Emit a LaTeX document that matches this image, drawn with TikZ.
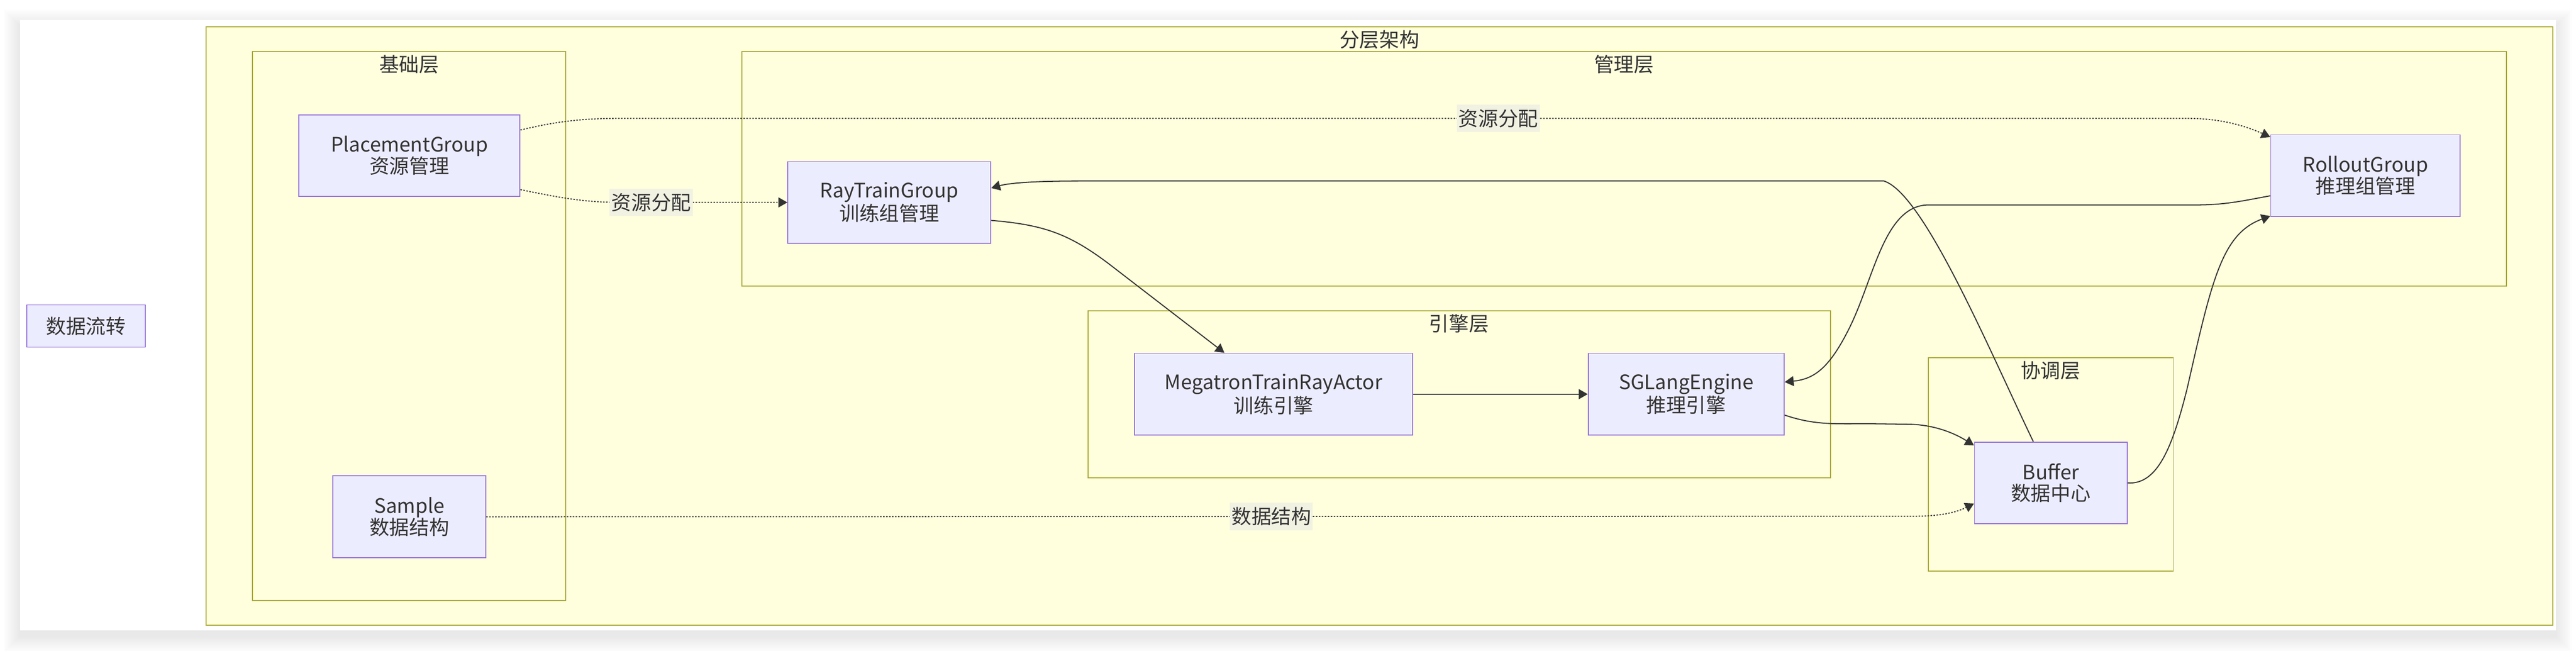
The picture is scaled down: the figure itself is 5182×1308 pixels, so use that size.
\documentclass[tikz,border=0pt]{standalone}
\usepackage{fontspec}
\setmainfont{Noto Sans CJK SC}
\usetikzlibrary{arrows.meta}
\definecolor{clusterfill}{HTML}{FFFFDE}
\definecolor{clusterline}{HTML}{AAAA33}
\definecolor{boxfill}{HTML}{ECECFF}
\definecolor{boxline}{HTML}{9370DB}
\definecolor{inkgray}{HTML}{333333}
\definecolor{labelfill}{HTML}{F2F2E3}

\begin{document}
\begin{tikzpicture}[x=0.01cm,y=-0.01cm,
  every node/.style={font=\fontsize{11.4pt}{12.3pt}\selectfont,text=inkgray},
  block/.style={draw=boxline,fill=boxfill,line width=0.55pt,align=center,inner sep=0pt,minimum height=1.64cm},
  layer/.style={draw=clusterline,fill=clusterfill,line width=0.55pt},
  link/.style={draw=inkgray,line width=0.6pt,-{Triangle[length=0.18cm,width=0.2cm]}},
  dotlink/.style={link,dash pattern=on 0.03cm off 0.03cm},
  elabel/.style={fill=labelfill,inner sep=0pt,minimum width=1.67cm,minimum height=0.55cm}]
\useasboundingbox (0,0) rectangle (5182,1308);
\fill [white] (0,0) rectangle (5182,1308);
\foreach \s in {3,6,...,33}
  \fill [black,opacity=0.007] (40-\s,52-\s) rectangle (5141+\s,1279+\s);
\fill [white] (40,40) rectangle (5141,1267);
\draw [layer] (415,54) rectangle (5135,1257);
\draw [layer] (508,104) rectangle (1138,1207);
\draw [layer] (1492,104) rectangle (5042,575);
\draw [layer] (2189,625) rectangle (3682,961);
\draw [layer] (3879,719) rectangle (4372,1148);
\node (archtitle) at (2775,80) {分层架构};
\node (basetitle) at (823,129) {基础层};
\node (mgmttitle) at (3267,129) {管理层};
\node (enginetitle) at (2935,651) {引擎层};
\node (coordtitle) at (4125,745) {协调层};
\node [block,minimum width=2.38cm,minimum height=0.85cm] (flow) at (173,655.5) {数据流转};
\node [block,minimum width=4.45cm] (pg) at (823.5,313) {PlacementGroup\\资源管理};
\node [block,minimum width=3.07cm] (sample) at (823.5,1039) {Sample\\数据结构};
\node [block,minimum width=4.08cm] (rtg) at (1789,407) {RayTrainGroup\\训练组管理};
\node [block,minimum width=3.81cm] (rog) at (4758.5,353) {RolloutGroup\\推理组管理};
\node [block,minimum width=5.60cm] (mtra) at (2562,792.5) {MegatronTrainRayActor\\训练引擎};
\node [block,minimum width=3.94cm] (sgl) at (3392,792.5) {SGLangEngine\\推理引擎};
\node [block,minimum width=3.07cm] (buf) at (4125.5,971) {Buffer\\数据中心};
\draw [dotlink] (pg.13) .. controls (1120,244) and (1170,238) .. (1250,238) -- node [elabel,pos=0.56] {资源分配} (4400,238) .. controls (4460,238) and (4510,250) .. (rog.158);
\draw [dotlink] (pg.-17) .. controls (1120,396) and (1170,407) .. (1250,407) -- node [elabel,pos=0.18] {资源分配} (rtg.west);
\draw [dotlink] (sample.east) -- node [elabel,pos=0.55] {数据结构} (3850,1038) .. controls (3910,1038) and (3940,1028) .. (buf.195);
\draw [link] (rtg.-10) .. controls (2100,452) and (2150,470) .. (2230,530) -- (mtra.140);
\draw [link] (mtra.east) -- (sgl.west);
\draw [link] (sgl.-12) .. controls (3650,855) and (3690,852) .. (3760,852) -- (3840,853) .. controls (3890,854) and (3930,870) .. (buf.154);
\draw [link] (rog.192) .. controls (4520,402) and (4480,412) .. (4420,412) -- (3880,412) .. controls (3790,412) and (3770,560) .. (3720,660) .. controls (3680,740) and (3650,762) .. (sgl.7);
\draw [link] (buf.113) .. controls (4000,700) and (3870,390) .. (3790,364) -- (2170,364) .. controls (2080,364) and (2030,368) .. (rtg.8);
\draw [link] (buf.east) .. controls (4340,975) and (4370,900) .. (4400,780) .. controls (4450,560) and (4470,470) .. (rog.203);
\end{tikzpicture}
\end{document}
